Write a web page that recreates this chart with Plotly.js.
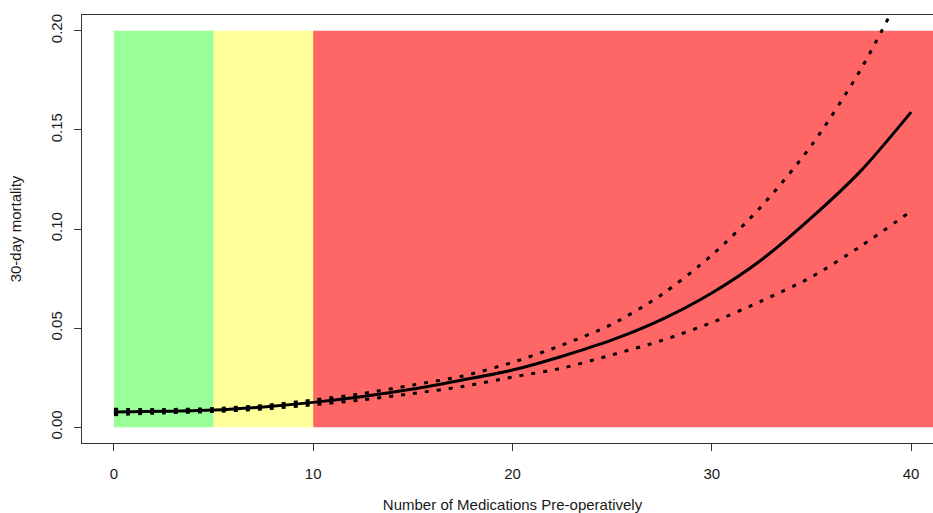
<!DOCTYPE html>
<html>
<head>
<meta charset="utf-8">
<script src="https://cdn.plot.ly/plotly-3.0.1.min.js"></script>
<style>
html,body{margin:0;padding:0;overflow:hidden;background:#fff;}
#chart{width:950px;height:513px;}
</style>
</head>
<body>
<div id="chart"></div>
<script>
// Number of medications (x) and 30-day mortality estimates
const medications = [0, 2.5, 5, 7.5, 10, 12.5, 15, 17.5, 20, 22.5, 25, 27.5, 30, 32.5, 35, 37.5, 40];
const mortalityFit = [0.0076, 0.0080, 0.0086, 0.0102, 0.0125, 0.0155, 0.0192, 0.0238, 0.0288, 0.0358, 0.0440, 0.0544, 0.0677, 0.0845, 0.1057, 0.1296, 0.1590];
const mortalityUpper = [0.0090, 0.0089, 0.0094, 0.0109, 0.0137, 0.0170, 0.0213, 0.0258, 0.0327, 0.0415, 0.0520, 0.0670, 0.0868, 0.1115, 0.1422, 0.1810, 0.2290];
const mortalityLower = [0.0063, 0.0072, 0.0079, 0.0092, 0.0113, 0.0138, 0.0170, 0.0205, 0.0253, 0.0298, 0.0365, 0.0438, 0.0528, 0.0637, 0.0758, 0.0915, 0.1090];

// Risk zones
const zoneStart = [0, 5, 10];
const zoneEnd = [5, 10, 42];
const zoneTop = 0.2;
const zoneColors = ['#99FF99', '#FFFF99', '#FF6666'];

const xTicks = [0, 10, 20, 30, 40];
const yTicks = [0, 0.05, 0.10, 0.15, 0.20];

const shapes = zoneStart.map((s, i) => ({
  type: 'rect', xref: 'x', yref: 'y', layer: 'below',
  x0: s, x1: zoneEnd[i], y0: 0, y1: zoneTop,
  fillcolor: zoneColors[i], line: {width: 0}
}));

const lineStyle = {color: '#000', width: 3, shape: 'spline', smoothing: 0.8};
const dotStyle = {color: '#000', width: 3, dash: '4px,8px', shape: 'spline', smoothing: 0.8};

const traces = [
  {x: medications, y: mortalityUpper, mode: 'lines', line: dotStyle, hoverinfo: 'skip'},
  {x: medications, y: mortalityLower, mode: 'lines', line: dotStyle, hoverinfo: 'skip'},
  {x: medications, y: mortalityFit, mode: 'lines', line: lineStyle}
];

const font = {family: 'Liberation Sans, Arial, sans-serif', size: 15, color: '#1a1a1a'};

const layout = {
  width: 950, height: 513,
  margin: {l: 82, r: 7, t: 15, b: 70},
  paper_bgcolor: '#fff', plot_bgcolor: '#fff',
  showlegend: false,
  font: font,
  shapes: shapes,
  xaxis: {
    range: [-1.6, 41.6],
    tickvals: xTicks, ticktext: xTicks.map(String),
    ticks: 'outside', ticklen: 7, tickwidth: 1, tickcolor: '#333',
    showline: true, linecolor: '#333', linewidth: 1, mirror: true,
    showgrid: false, zeroline: false,
    ticklabelstandoff: 10,
    title: {text: 'Number of Medications Pre-operatively', font: font, standoff: 22}
  },
  yaxis: {
    range: [-0.008, 0.208],
    tickvals: yTicks, ticktext: yTicks.map(v => v.toFixed(2)),
    tickangle: -90,
    ticks: 'outside', ticklen: 7, tickwidth: 1, tickcolor: '#333',
    showline: true, linecolor: '#333', linewidth: 1, mirror: true,
    showgrid: false, zeroline: false,
    ticklabelstandoff: 6,
    title: {text: '30-day mortality', font: font, standoff: 22}
  }
};

Plotly.newPlot('chart', traces, layout, {displayModeBar: false, staticPlot: true});
</script>
</body>
</html>
